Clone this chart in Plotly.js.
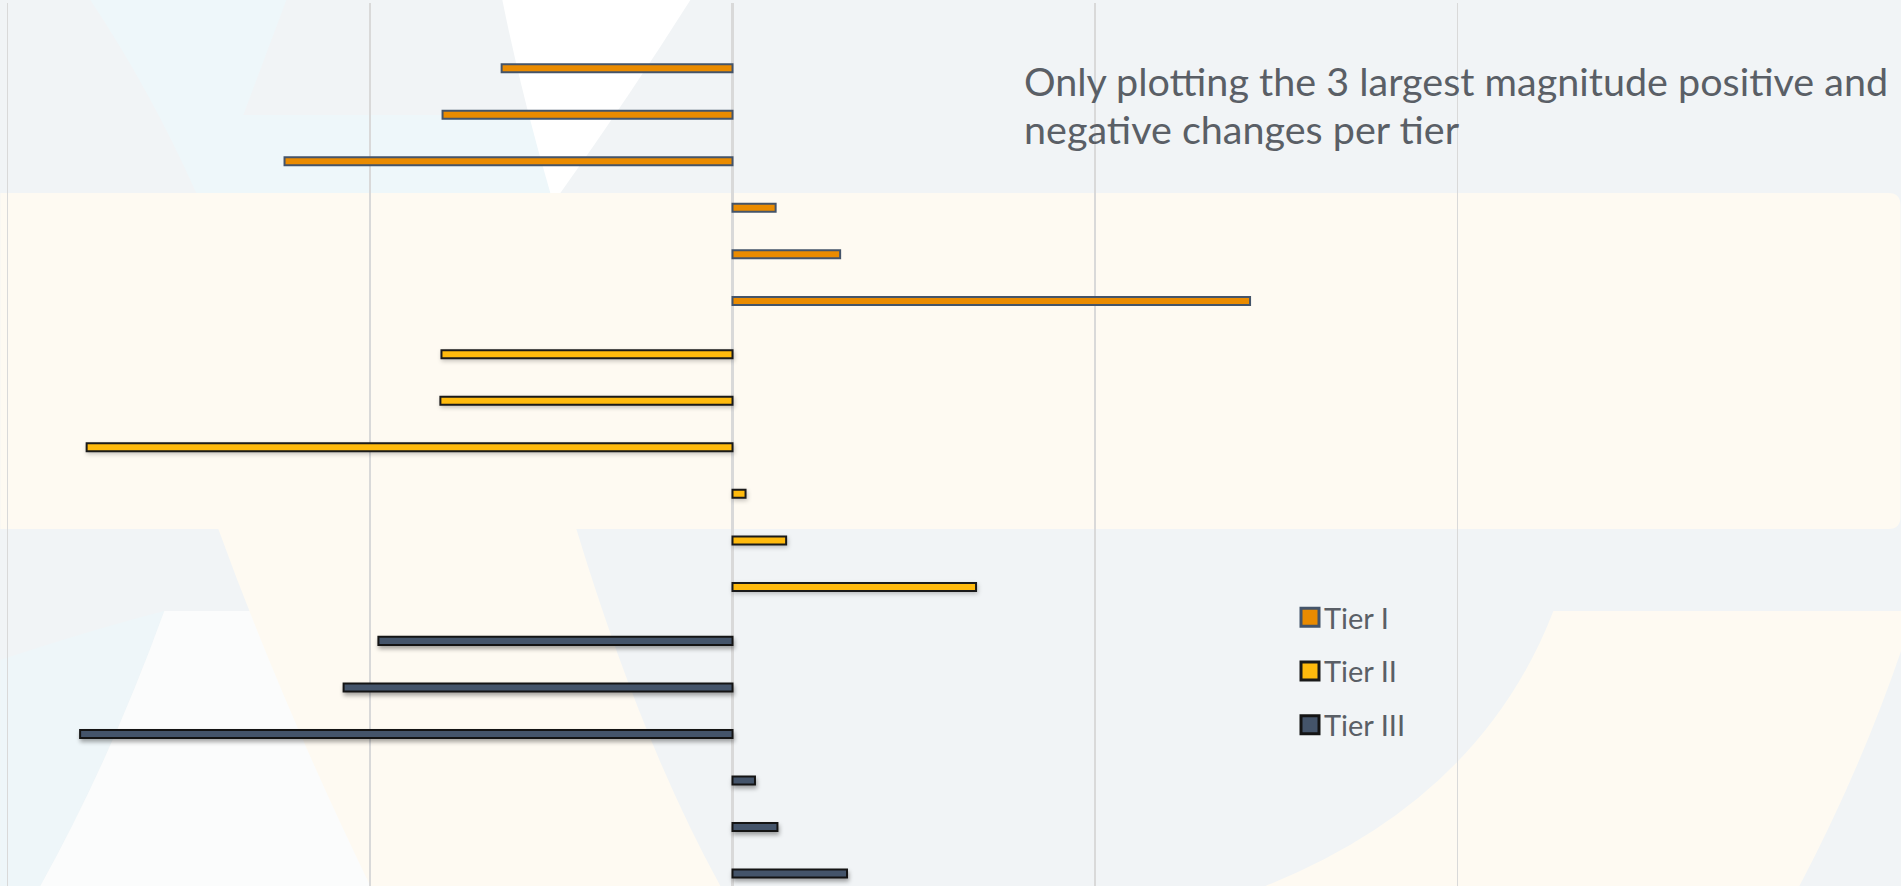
<!DOCTYPE html>
<html>
<head>
<meta charset="utf-8">
<script src="https://cdn.plot.ly/plotly-3.0.1.min.js"></script>
<style>
  html, body { margin: 0; padding: 0; background: #F1F4F6; }
  #chart { width: 1901px; height: 886px; }
</style>
</head>
<body>
<div id="chart"></div>
<script>
// ---- data ----
const categories = [
  'T1-a','T1-b','T1-c','T1-d','T1-e','T1-f',
  'T2-a','T2-b','T2-c','T2-d','T2-e','T2-f',
  'T3-a','T3-b','T3-c','T3-d','T3-e','T3-f'
];
const tier1Cats = categories.slice(0, 6);
const tier2Cats = categories.slice(6, 12);
const tier3Cats = categories.slice(12, 18);
const tier1Values = [-0.637, -0.800, -1.236, 0.119, 0.297, 1.428];
const tier2Values = [-0.803, -0.806, -1.782, 0.036, 0.148, 0.672];
const tier3Values = [-0.977, -1.073, -1.800, 0.062, 0.124, 0.316];
const seriesNames = ['Tier I', 'Tier II', 'Tier III'];
const noteText = 'Only plotting the 3 largest magnitude positive and<br>negative changes per tier';

// ---- geometry ----
const W = 1901, H = 886;
const M = { l: 3.68, r: 440.4, t: 3, b: 0, autoexpand: false };
const pw = W - M.l - M.r, ph = H - M.t - M.b;
const X = px => (px - M.l) / pw;
const Y = py => 1 - (py - M.t) / ph;
function path(pts) {
  return pts.map(p => {
    if (p[0] === 'Z') return 'Z';
    const nums = [];
    for (let i = 1; i < p.length; i += 2) nums.push(X(p[i]).toFixed(5) + ',' + Y(p[i + 1]).toFixed(5));
    return p[0] + nums.join(' ');
  }).join(' ');
}
function bgShape(pts, color) {
  return { type: 'path', xref: 'paper', yref: 'paper', layer: 'below',
    path: path(pts), fillcolor: color, line: { width: 0 } };
}
const shapes = [
  // cream middle band
  bgShape([['M',0,193],['L',1888,193],['Q',1900,193,1900,205],['L',1900,517],['Q',1900,529,1888,529],['L',0,529],['Z']], '#FEFAF2'),
  // top pale cyan area
  bgShape([['M',90,0],['L',286,0],['L',243,115],['L',553,115],['L',556,193],['L',196,193],['Q',150,90,90,0],['Z']], '#EEF7FA'),
  // top white wedge
  bgShape([['M',502,0],['L',690,0],['Q',630,95,560,193],['L',550,193],['Q',520,90,502,0],['Z']], '#FFFFFF'),
  // bottom-left pale cyan
  bgShape([['M',0,660],['Q',90,630,164,611],['Q',110,760,40,886],['L',0,886],['Z']], '#EEF6F9'),
  // bottom-left white area
  bgShape([['M',164,611],['L',533,611],['L',533,886],['L',40,886],['Q',110,760,164,611],['Z']], '#FBFCFC'),
  // bottom cream wedge
  bgShape([['M',218,529],['L',576,529],['Q',640,740,720,886],['L',370,886],['Q',280,700,218,529],['Z']], '#FEFAF2'),
  // bottom-right cream arc
  bgShape([['M',1553,611],['L',1901,611],['L',1901,650],['Q',1860,770,1799,886],['L',1265,886],['Q',1480,800,1553,611],['Z']], '#FEFAF2')
];

const offsets = [-0.232, -0.086, 0.073];
const barWidth = 0.172;
const fills = ['#EA8B00', '#FFBA0D', '#44546A'];
const borders = ['#44546A', '#1A1A1A', '#141414'];
const catsList = [tier1Cats, tier2Cats, tier3Cats];
const valsList = [tier1Values, tier2Values, tier3Values];

const traces = seriesNames.map((name, i) => ({
  type: 'bar', orientation: 'h', name: name,
  y: catsList[i], x: valsList[i],
  offset: offsets[i], width: barWidth,
  legendgroup: 'g' + i,
  marker: { color: fills[i], line: { color: borders[i], width: 2 } },
  hoverinfo: 'x+name'
}));

const fontFam = 'Lato, "Open Sans", sans-serif';
const layout = {
  width: W, height: H,
  margin: M,
  paper_bgcolor: '#F1F4F6',
  plot_bgcolor: 'rgba(0,0,0,0)',
  barmode: 'overlay',
  showlegend: true,
  legend: {
    xref: 'container', yref: 'container',
    x: 1284 / W, y: 1 - 592 / H, xanchor: 'left', yanchor: 'top',
    bgcolor: 'rgba(0,0,0,0)', borderwidth: 0,
    font: { family: fontFam, size: 29, color: '#5A5F66' },
    tracegroupgap: 13, traceorder: 'grouped'
  },
  xaxis: {
    range: [-2.01, 2.01], dtick: 1, tick0: 0,
    showticklabels: false, ticks: '', showline: false,
    showgrid: true, gridcolor: '#D9D9D9', gridwidth: 1.5,
    zeroline: true, zerolinecolor: '#D9D9D9', zerolinewidth: 2.5,
    fixedrange: true
  },
  yaxis: {
    type: 'category', categoryorder: 'array', categoryarray: categories,
    range: [17.426, -1.547],
    showticklabels: false, ticks: '', showline: false, showgrid: false, zeroline: false,
    fixedrange: true
  },
  shapes: shapes,
  annotations: [{
    text: noteText, xref: 'paper', yref: 'paper',
    x: X(1022), y: Y(55), xanchor: 'left', yanchor: 'top',
    showarrow: false, align: 'left',
    font: { family: fontFam, size: 39.5, color: '#5A5F66' }
  }]
};

Plotly.newPlot('chart', traces, layout, { displayModeBar: false, staticPlot: true }).then(gd => {
  const tr = gd.querySelectorAll('.barlayer .trace');
  if (tr[1]) tr[1].style.filter = 'drop-shadow(1px 2px 2px rgba(0,0,0,0.22))';
  if (tr[2]) tr[2].style.filter = 'drop-shadow(1px 3px 2px rgba(0,0,0,0.35))';
  gd.querySelectorAll('.legend .legendpoints path').forEach(p => {
    const t = p.getAttribute('transform') || '';
    p.setAttribute('transform', t + ' translate(6,0) scale(1.5)');
  });
  // tighter line spacing for the two-line note (kept just above the line-box height)
  gd.querySelectorAll('.annotation-text tspan.line').forEach((s, i) => {
    if (i > 0) s.setAttribute('dy', '1.21em');
  });
});
</script>
</body>
</html>
